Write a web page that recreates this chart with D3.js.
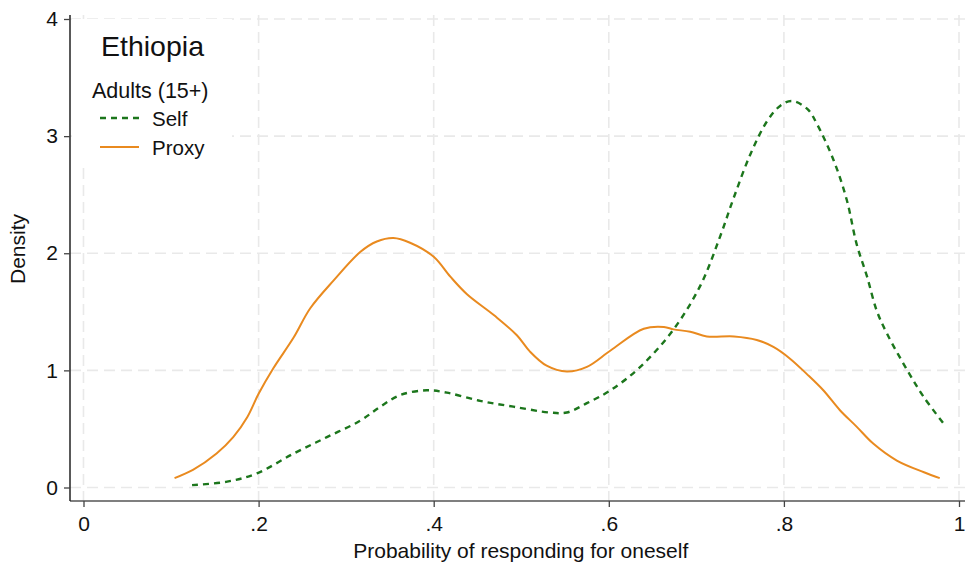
<!DOCTYPE html>
<html>
<head>
<meta charset="utf-8">
<script src="https://cdn.jsdelivr.net/npm/d3@7"></script>
<style>
  body { margin: 0; background: #fff; }
  svg { display: block; font-family: "Liberation Sans", Helvetica, Arial, sans-serif; }
</style>
</head>
<body>
<svg id="chart" width="965" height="567"></svg>
<script>
// kernel density
const selfX = [0.124, 0.164, 0.198, 0.240, 0.278, 0.316, 0.339, 0.362, 0.392, 0.415,
  0.453, 0.491, 0.533, 0.552, 0.575, 0.602, 0.636, 0.674, 0.705, 0.727,
  0.743, 0.762, 0.781, 0.796, 0.809, 0.827, 0.838, 0.857, 0.872, 0.883,
  0.895, 0.906, 0.918, 0.941, 0.960, 0.982];
const selfY = [0.02, 0.05, 0.12, 0.29, 0.43, 0.57, 0.69, 0.79, 0.83, 0.81,
  0.74, 0.69, 0.64, 0.64, 0.72, 0.83, 1.03, 1.35, 1.73, 2.14,
  2.48, 2.85, 3.13, 3.26, 3.30, 3.23, 3.10, 2.79, 2.45, 2.08,
  1.80, 1.51, 1.31, 1.00, 0.77, 0.55];

const proxyX = [0.104, 0.125, 0.152, 0.171, 0.187, 0.200, 0.217, 0.240, 0.259, 0.286,
  0.316, 0.335, 0.354, 0.373, 0.400, 0.419, 0.438, 0.469, 0.495, 0.510,
  0.529, 0.552, 0.575, 0.602, 0.640, 0.663, 0.674, 0.693, 0.712, 0.743,
  0.769, 0.788, 0.807, 0.826, 0.845, 0.864, 0.883, 0.902, 0.929, 0.960, 0.978];
const proxyY = [0.08, 0.15, 0.29, 0.43, 0.60, 0.80, 1.02, 1.28, 1.53, 1.77,
  2.01, 2.10, 2.13, 2.09, 1.97, 1.80, 1.65, 1.47, 1.30, 1.16,
  1.04, 0.99, 1.03, 1.17, 1.355, 1.37, 1.35, 1.33, 1.29, 1.29,
  1.26, 1.20, 1.10, 0.97, 0.83, 0.66, 0.52, 0.375, 0.23, 0.13, 0.08];

const xTicks = [0, 0.2, 0.4, 0.6, 0.8, 1];
const xTickLabels = ["0", ".2", ".4", ".6", ".8", "1"];
const yTicks = [0, 1, 2, 3, 4];

const svg = d3.select("#chart");

const x = d3.scaleLinear().domain([0, 1]).range([83.5, 959]);
const y = d3.scaleLinear().domain([0, 4]).range([487.5, 19]);

const plotLeft = 70, plotRight = 965, plotTop = 15, plotBottom = 501;

// grid
const grid = svg.append("g")
  .attr("stroke", "#e9e9e9")
  .attr("stroke-width", 1.6)
  .attr("stroke-dasharray", "11,6");

grid.selectAll(".vgrid")
  .data(xTicks)
  .enter()
  .append("line")
  .attr("x1", d => x(d))
  .attr("x2", d => x(d))
  .attr("y1", plotTop)
  .attr("y2", plotBottom);

grid.selectAll(".hgrid")
  .data(yTicks)
  .enter()
  .append("line")
  .attr("x1", plotLeft)
  .attr("x2", plotRight)
  .attr("y1", d => y(d))
  .attr("y2", d => y(d));

// curves
const line = d3.line()
  .x(d => x(d[0]))
  .y(d => y(d[1]))
  .curve(d3.curveCatmullRom.alpha(0.5));

const selfData = selfX.map((v, i) => [v, selfY[i]]);
const proxyData = proxyX.map((v, i) => [v, proxyY[i]]);

svg.append("path")
  .datum(proxyData)
  .attr("d", line)
  .attr("fill", "none")
  .attr("stroke", "#e98a1f")
  .attr("stroke-width", 2);

svg.append("path")
  .datum(selfData)
  .attr("d", line)
  .attr("fill", "none")
  .attr("stroke", "#1c761c")
  .attr("stroke-width", 2.4)
  .attr("stroke-dasharray", "6,5");

// axes
const xAxis = d3.axisBottom(x)
  .tickValues(xTicks)
  .tickFormat((d, i) => xTickLabels[i])
  .tickSize(6)
  .tickPadding(9);

const gx = svg.append("g")
  .attr("transform", `translate(0,${plotBottom})`)
  .call(xAxis);

gx.select(".domain")
  .attr("d", `M${plotLeft},0H${plotRight}`)
  .attr("stroke", "#555")
  .attr("stroke-width", 1.6);

const yAxis = d3.axisLeft(y)
  .tickValues(yTicks)
  .tickFormat(d3.format("d"))
  .tickSize(6)
  .tickPadding(6);

const gy = svg.append("g")
  .attr("transform", `translate(${plotLeft},0)`)
  .call(yAxis);

gy.select(".domain")
  .attr("d", `M0,${plotTop}V${plotBottom}`)
  .attr("stroke", "#222")
  .attr("stroke-width", 1.5);

[gx, gy].forEach(g => {
  g.selectAll(".tick line").attr("stroke", "#444").attr("stroke-width", 1.3);
  g.selectAll(".tick text")
    .attr("font-size", 21)
    .attr("fill", "#111")
    .attr("font-family", "\"Liberation Sans\", Helvetica, Arial, sans-serif");
});

// axis titles
svg.append("text")
  .attr("x", x(0.5) - 0.5)
  .attr("y", 558)
  .attr("text-anchor", "middle")
  .attr("font-size", 21)
  .attr("fill", "#111")
  .text("Probability of responding for oneself");

svg.append("text")
  .attr("transform", "translate(25,249) rotate(-90)")
  .attr("text-anchor", "middle")
  .attr("font-size", 21)
  .attr("fill", "#111")
  .text("Density");

// legend
const legend = svg.append("g");

legend.append("rect")
  .attr("x", 72)
  .attr("y", 19)
  .attr("width", 160)
  .attr("height", 147)
  .attr("fill", "#fff");

legend.append("text")
  .attr("x", 101)
  .attr("y", 56)
  .attr("font-size", 28.5)
  .attr("fill", "#111")
  .text("Ethiopia");

legend.append("text")
  .attr("x", 92)
  .attr("y", 98)
  .attr("font-size", 21.5)
  .attr("fill", "#111")
  .text("Adults (15+)");

const items = [
  { label: "Self", color: "#1c761c", dash: "6,5", width: 2.4, y: 118 },
  { label: "Proxy", color: "#e98a1f", dash: null, width: 2, y: 147 }
];

items.forEach(it => {
  legend.append("line")
    .attr("x1", 100)
    .attr("x2", 139)
    .attr("y1", it.y)
    .attr("y2", it.y)
    .attr("stroke", it.color)
    .attr("stroke-width", it.width)
    .attr("stroke-dasharray", it.dash);

  legend.append("text")
    .attr("x", 152)
    .attr("y", it.y + 8)
    .attr("font-size", 20.5)
    .attr("fill", "#111")
    .text(it.label);
});
</script>
</body>
</html>
